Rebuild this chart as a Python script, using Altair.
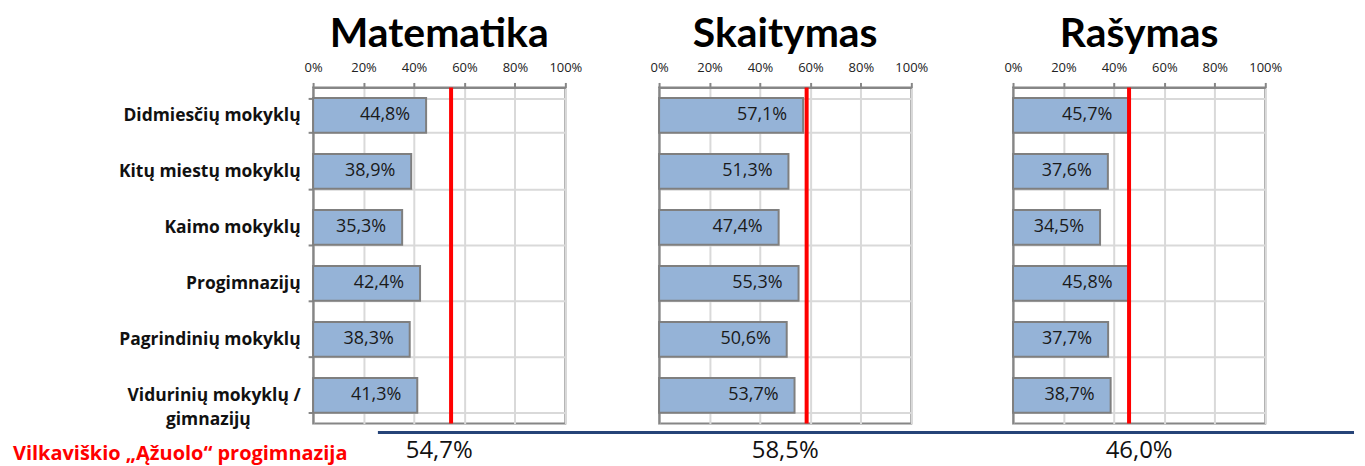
import altair as alt
import pandas as pd

categories = [
    "Didmiesčių mokyklų",
    "Kitų miestų mokyklų",
    "Kaimo mokyklų",
    "Progimnazijų",
    "Pagrindinių mokyklų",
    "Vidurinių mokyklų / gimnazijų",
]
subjects = ["Matematika", "Skaitymas", "Rašymas"]
matematika = [44.8, 38.9, 35.3, 42.4, 38.3, 41.3]
skaitymas = [57.1, 51.3, 47.4, 55.3, 50.6, 53.7]
rasymas = [45.7, 37.6, 34.5, 45.8, 37.7, 38.7]
school_values = [54.7, 58.5, 46.0]
school_name = "Vilkaviškio „Ąžuolo“ progimnazija"
x_ticks = [0, 20, 40, 60, 80, 100]

W, H = 253, 337
TFONT = "Lato"
FONT = "Open Sans"
GRID = "#D9D9D9"
BORDER = "#868686"
LABEL_EXPR = "replace(format(datum.v, '.1f'), '.', ',') + '%'"
PAD = "\u2007" * 5 + "\u200b"
Y_LABEL_EXPR = (
    "indexof(datum.label, ' / ') > 0 ? "
    "[slice(datum.label, 0, indexof(datum.label, ' / ') + 2), "
    "slice(datum.label, indexof(datum.label, ' / ') + 3) + '" + PAD + "'] : datum.label"
)


def panel(i, subject, values, ref):
    df = pd.DataFrame({"cat": categories, "v": values})
    xscale = alt.Scale(domain=[0, 100], nice=False, zero=True)
    yscale = alt.Scale(paddingInner=0.38, paddingOuter=0.19)
    xaxis = alt.Axis(
        orient="top", values=x_ticks, labelExpr="datum.value + '%'", title=None,
        grid=True, gridColor=GRID, gridWidth=2, domainColor=BORDER, domainWidth=2,
        tickColor=BORDER, tickWidth=2, tickSize=5, labelFont=FONT, labelFontSize=13,
        labelColor="#222222", labelPadding=8, labelFlush=False, labelOverlap=False,
    )
    if i == 0:
        yaxis = alt.Axis(
            title=None, tickBand="extent", grid=True, gridColor=GRID, gridWidth=2,
            domainColor=BORDER, domainWidth=2, tickColor=BORDER, tickWidth=2, tickSize=5,
            labelFont=FONT, labelFontSize=17.5, labelFontWeight="bold", labelColor="#111111",
            labelPadding=8, labelExpr=Y_LABEL_EXPR, labelLineHeight=24, labelLimit=300,
        )
    else:
        yaxis = alt.Axis(
            title=None, tickBand="extent", grid=True, gridColor=GRID, gridWidth=2,
            domainColor=BORDER, domainWidth=2, ticks=False, labels=False,
        )
    base = alt.Chart(df)
    y = alt.Y("cat:N", sort=categories, scale=yscale, axis=yaxis)
    bars = base.mark_bar(color="#95B3D7", stroke="#7F7F7F", strokeWidth=2).encode(
        x=alt.X("v:Q", scale=xscale, axis=xaxis), y=y
    )
    labels = base.transform_calculate(lab=LABEL_EXPR).mark_text(
        align="right", dx=-16, fontSize=18, font=FONT, color="#1a1a1a"
    ).encode(x="v:Q", y=alt.Y("cat:N", sort=categories), text="lab:N")
    rdf = pd.DataFrame({"v": [ref]})
    rule = alt.Chart(rdf).mark_rule(color="#FF0000", strokeWidth=4).encode(x="v:Q")
    bottom = alt.Chart(rdf).transform_calculate(lab=LABEL_EXPR).mark_text(
        fontSize=24, font=FONT, color="#111111"
    ).encode(x=alt.value(W / 2), y=alt.value(H + 28), text="lab:N")
    layers = [bars, labels, rule, bottom]
    if i == 0:
        blue = alt.Chart(rdf).mark_rule(color="#264478", strokeWidth=3).encode(
            x=alt.value(65), x2=alt.value(1044), y=alt.value(H + 9)
        )
        red = alt.Chart(rdf).mark_text(
            align="left", fontSize=20, fontWeight="bold", font=FONT, color="#FF0000"
        ).encode(x=alt.value(-301), y=alt.value(H + 31), text=alt.value(school_name))
        layers += [blue, red]
    return alt.layer(*layers).properties(
        width=W, height=H,
        title=alt.TitleParams(subject, fontSize=41, font=TFONT, fontWeight="bold",
                              color="black", anchor="middle", offset=6),
    )


series = [matematika, skaitymas, rasymas]
panels = [panel(i, s, v, r) for i, (s, v, r) in enumerate(zip(subjects, series, school_values))]

chart = alt.hconcat(
    panels[0],
    alt.hconcat(panels[1], panels[2], spacing=102, bounds="flush"),
    spacing=94, bounds="flush",
).configure_view(stroke=BORDER, strokeWidth=2).properties(
    padding={"left": 4, "top": 4, "right": 0, "bottom": 0}
)

chart.save("out.html", embed_options={"renderer": "svg", "actions": False})
